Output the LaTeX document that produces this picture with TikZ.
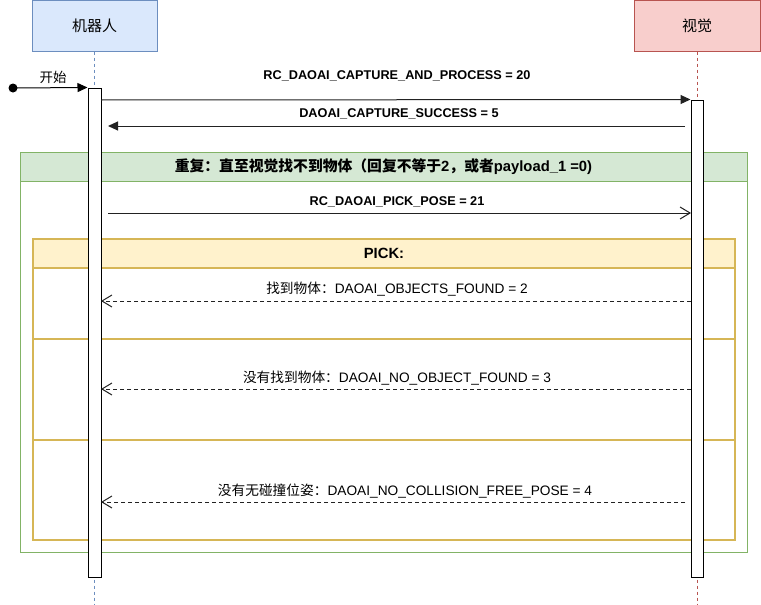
\documentclass[tikz,border=0pt]{standalone}
\usepackage{fontspec}
\setmainfont{Liberation Sans}
\newfontfamily\cjk{Noto Sans CJK SC}
\usetikzlibrary{arrows.meta}

\definecolor{robotfill}{HTML}{DAE8FC}
\definecolor{robotline}{HTML}{6C8EBF}
\definecolor{visionfill}{HTML}{F8CECC}
\definecolor{visionline}{HTML}{B85450}
\definecolor{loopfill}{HTML}{D5E8D4}
\definecolor{loopline}{HTML}{82B366}
\definecolor{pickfill}{HTML}{FFF2CC}
\definecolor{pickline}{HTML}{D6B656}
\definecolor{msgline}{HTML}{222222}

\tikzstyle{actor} = [rectangle, draw, line width=1pt, inner sep=0pt, font=\fontsize{15}{17}\selectfont\cjk]
\tikzstyle{lifeline} = [line width=1pt, dash pattern=on 3pt off 3pt]
\tikzstyle{bar} = [rectangle, draw, fill=white, line width=1pt, minimum width=13pt, inner sep=0pt]
\tikzstyle{callmsg} = [draw=msgline, line width=1pt, -{Triangle[length=10pt, width=9pt]}]
\tikzstyle{openmsg} = [draw=msgline, line width=1pt, -{Straight Barb[length=10pt, width=12pt]}]
\tikzstyle{replymsg} = [openmsg, dash pattern=on 4pt off 3pt]
\tikzstyle{boldlabel} = [inner sep=0pt, font=\fontsize{12.7}{14}\selectfont\bfseries]
\tikzstyle{plainlabel} = [inner sep=0pt, font=\fontsize{13.7}{15}\selectfont]
\tikzstyle{framebox} = [rectangle, inner sep=0pt]
\tikzstyle{framehead} = [rectangle, inner sep=0pt, anchor=north, minimum height=29pt,
                         font=\fontsize{14.8}{16}\selectfont\bfseries]

\begin{document}
\begin{tikzpicture}[x=1pt, y=-1pt]
        \useasboundingbox (0,0) rectangle (761,605);

        % Loop frame
        \node[framebox, draw=loopline, line width=1pt, minimum width=727pt, minimum height=400pt]
          (loopbox) at (383.5, 352) {};
        \node[framehead, draw=loopline, fill=loopfill, line width=1pt, minimum width=727pt]
          (loophead) at (loopbox.north)
          {{\cjk 重复：直至视觉找不到物体（回复不等于}2{\cjk ，或者}payload\_1 =0)};

        % Pick frame
        \node[framebox, draw=pickline, line width=2pt, minimum width=702pt, minimum height=301pt]
          (pickbox) at (384, 389.5) {};
        \node[framehead, draw=pickline, fill=pickfill, line width=2pt, minimum width=702pt]
          (pickhead) at (pickbox.north) {PICK:};
        \coordinate (sepA) at (33, 339);
        \coordinate (sepB) at (33, 440);
        \draw[pickline, line width=2pt] (sepA) -- (sepA -| pickbox.east);
        \draw[pickline, line width=2pt] (sepB) -- (sepB -| pickbox.east);

        % Actors and lifelines
        \node[actor, fill=robotfill, draw=robotline, minimum width=125pt, minimum height=51pt]
          (robot) at (94.5, 25.5) {机器人};
        \node[actor, fill=visionfill, draw=visionline, minimum width=126pt, minimum height=51pt]
          (vision) at (697, 25.5) {视觉};
        \coordinate (robotend) at (94.5, 605);
        \coordinate (visionend) at (697, 605);
        \draw[lifeline, robotline] (robot.south) -- (robotend);
        \draw[lifeline, visionline] (vision.south) -- (visionend);

        % Activation bars
        \node[bar, minimum height=489pt] (robotbar) at (94.5, 332.5) {};
        \node[bar, minimum width=12pt, minimum height=477pt] (visionbar) at (697, 338.5) {};

        % Start
        \coordinate (startdot) at (13, 88);
        \fill (startdot) circle (4.5);
        \draw[callmsg, draw=black] (startdot) -- (robotbar.north west);
        \node[plainlabel, font=\fontsize{13.5}{15}\selectfont\cjk] (startlabel) at (53, 77) {开始};

        % Capture
        \coordinate (captureA) at (101, 100);
        \draw[callmsg] (captureA) -- (visionbar.north west);
        \node[boldlabel] (capturelabel) at (397, 76) {RC\_DAOAI\_CAPTURE\_AND\_PROCESS = 20};
        \coordinate (successA) at (685, 126);
        \coordinate (successB) at (108, 126);
        \draw[callmsg] (successA) -- (successB);
        \node[boldlabel] (successlabel) at (399, 114) {DAOAI\_CAPTURE\_SUCCESS = 5};

        % Pick pose request
        \coordinate (poseA) at (108, 213);
        \coordinate (poseB) at (691, 213);
        \draw[openmsg] (poseA) -- (poseB);
        \node[boldlabel] (poselabel) at (397, 202) {RC\_DAOAI\_PICK\_POSE = 21};

        % Replies
        \coordinate (foundA) at (691, 301);
        \coordinate (foundB) at (101, 301);
        \draw[replymsg] (foundA) -- (foundB);
        \node[plainlabel] (foundlabel) at (397, 289) {{\cjk 找到物体：}DAOAI\_OBJECTS\_FOUND = 2};

        \coordinate (noobjA) at (691, 389);
        \coordinate (noobjB) at (101, 389);
        \draw[replymsg] (noobjA) -- (noobjB);
        \node[plainlabel] (noobjlabel) at (397, 378) {{\cjk 没有找到物体：}DAOAI\_NO\_OBJECT\_FOUND = 3};

        \coordinate (nofreeA) at (685, 502);
        \coordinate (nofreeB) at (101, 502);
        \draw[replymsg] (nofreeA) -- (nofreeB);
        \node[plainlabel] (nofreelabel) at (405, 491) {{\cjk 没有无碰撞位姿：}DAOAI\_NO\_COLLISION\_FREE\_POSE = 4};
      \end{tikzpicture}
\end{document}
